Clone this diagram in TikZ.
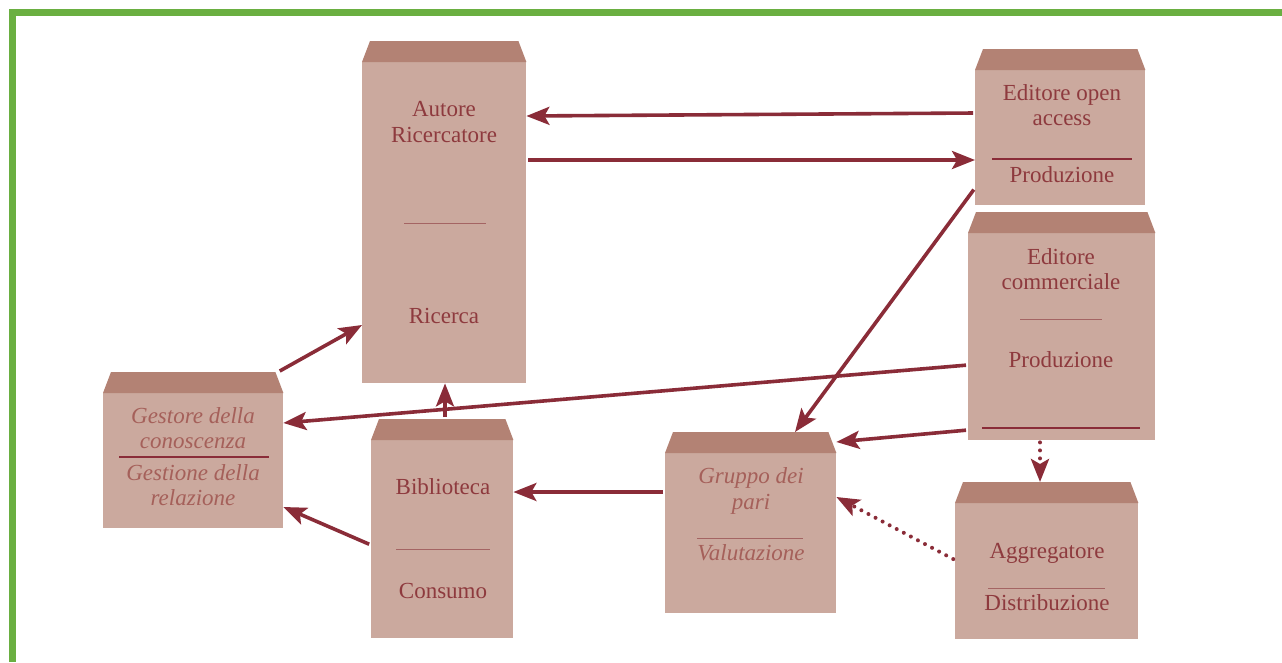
\documentclass[tikz,border=0pt]{standalone}
\usepackage{fontspec}
\setmainfont{Liberation Serif}
\usetikzlibrary{arrows.meta}
\definecolor{frameg}{HTML}{6AAF41}
\definecolor{bodyc}{HTML}{CBA99E}
\definecolor{capc}{HTML}{B38274}
\definecolor{txt}{HTML}{8E3A3E}
\definecolor{itxt}{HTML}{A5605A}
\definecolor{arr}{HTML}{8A2C38}
\definecolor{thinc}{HTML}{A46463}
\newcommand\capof[1]{%
  \fill[capc] (#1.north west) -- ([xshift=8pt,yshift=21pt]#1.north west) -- ([xshift=-8pt,yshift=21pt]#1.north east) -- (#1.north east) -- cycle;
  \coordinate (#1top) at ([yshift=21pt]#1.north);}
\tikzset{
 body/.style={fill=bodyc, draw=none, inner sep=0pt, anchor=north west},
 lbl/.style={font=\fontsize{23}{26}\selectfont, text=txt, anchor=base, inner sep=0pt},
 ilbl/.style={lbl, font=\fontsize{23}{26}\selectfont\itshape, text=itxt},
 thickrule/.style={draw=arr, line width=2.5pt},
 thinrule/.style={draw=thinc, line width=0.8pt},
 conn/.style={draw=arr, line width=3.6pt, shorten <=2pt, -{Stealth[length=23pt,width=18pt,inset=5pt]}},
 dotconn/.style={conn, line cap=round, dash pattern=on 0pt off 8pt, line width=4pt},
}
\begin{document}
\begin{tikzpicture}[x=1pt,y=-1pt]
\useasboundingbox (0,0) rectangle (1282,662);
\fill[white] (0,0) rectangle (1282,662);
% frame
\fill[frameg] (9,9) rectangle (1282,16);
\fill[frameg] (9,9) rectangle (16,662);

% boxes
\node[body, minimum width=164pt, minimum height=321pt] (aut) at (362,62) {};
\capof{aut}
\node[body, minimum width=170pt, minimum height=135pt] (oa) at (975,70) {};
\capof{oa}
\node[body, minimum width=187pt, minimum height=207pt] (com) at (968,233) {};
\capof{com}
\node[body, minimum width=180pt, minimum height=135pt] (ges) at (103,393) {};
\capof{ges}
\node[body, minimum width=142pt, minimum height=198pt] (bib) at (371,440) {};
\capof{bib}
\node[body, minimum width=171pt, minimum height=160pt] (grp) at (665,453) {};
\capof{grp}
\node[body, minimum width=183pt, minimum height=136pt] (agg) at (955,503) {};
\capof{agg}

% texts
\node[lbl] (aut1) at (444,116) {Autore};
\node[lbl] (aut2) at (444,142) {Ricercatore};
\draw[thinrule] (404,223) -- (486,223);
\node[lbl] (aut3) at (444,323) {Ricerca};

\node[lbl] (oa1) at (1062,100) {Editore open};
\node[lbl] (oa2) at (1062,125) {access};
\draw[thickrule] (992,159) -- (1132,159);
\node[lbl] (oa3) at (1062,182) {Produzione};

\node[lbl] (com1) at (1061,264) {Editore};
\node[lbl] (com2) at (1061,289) {commerciale};
\draw[thinrule] (1020,319) -- (1102,319);
\node[lbl] (com3) at (1061,367) {Produzione};
\draw[thickrule] (982,428) -- (1140,428);

\node[ilbl] (ges1) at (193,423) {Gestore della};
\node[ilbl] (ges2) at (193,448) {conoscenza};
\draw[thickrule] (119,457) -- (269,457);
\node[ilbl] (ges3) at (193,480) {Gestione della};
\node[ilbl] (ges4) at (193,505) {relazione};

\node[lbl] (bib1) at (443,494) {Biblioteca};
\draw[thinrule] (396,549) -- (490,549);
\node[lbl] (bib2) at (443,598) {Consumo};

\node[ilbl] (grp1) at (751,483) {Gruppo dei};
\node[ilbl] (grp2) at (751,509) {pari};
\draw[thinrule] (697,538) -- (803,538);
\node[ilbl] (grp3) at (751,560) {Valutazione};

\node[lbl] (agg1) at (1047,558) {Aggregatore};
\draw[thinrule] (988,588) -- (1105,588);
\node[lbl] (agg2) at (1047,610) {Distribuzione};

% connectors
\draw[conn] (oa.west |- 0,113) -- (aut.east |- 0,116);
\draw[conn] (aut.east |- 0,160) -- (oa.west |- 0,160);
\draw[conn] (oa.west |- 0,188) -- (grptop -| 795,0);
\draw[conn] (com.west |- 0,365) -- (ges.east |- 0,423);
\draw[conn] (com.west |- 0,430) -- (grp.east |- 0,442);
\draw[dotconn] (com.south -| 1040,0) -- (aggtop -| 1040,0);
\draw[dotconn] (agg.west |- 0,560) -- (grp.east |- 0,497);
\draw[conn] (grp.west |- 0,492) -- (bib.east |- 0,492);
\draw[conn] (bibtop -| 445,0) -- (aut.south -| 445,0);
\draw[conn] (bib.west |- 0,545) -- (ges.east |- 0,507);
\draw[conn] (gestop -| 278,0) -- (aut.west |- 0,325);
\end{tikzpicture}
\end{document}
